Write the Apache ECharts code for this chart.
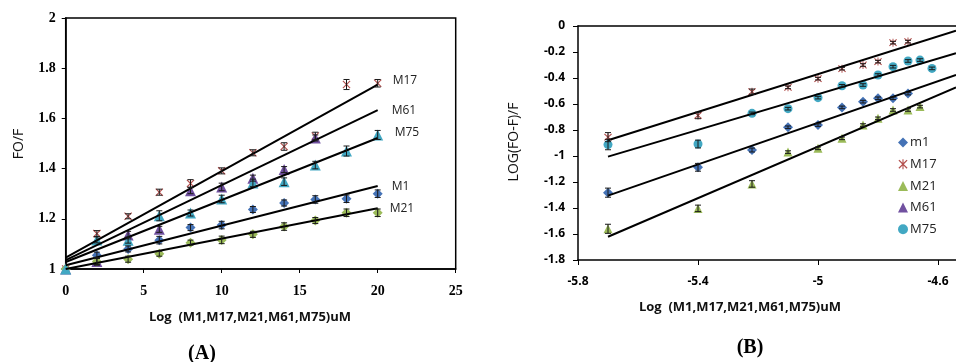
<!DOCTYPE html>
<html>
<head>
<meta charset="utf-8">
<script src="https://cdn.jsdelivr.net/npm/echarts@6.0.0/dist/echarts.min.js"></script>
<style>
html,body{margin:0;padding:0;background:#fff;}
#chart{width:956px;height:362px;}
</style>
</head>
<body>
<div id="chart"></div>
<script>
// ---------- Panel A data ----------
const xA = [0, 2, 4, 6, 8, 10, 12, 14, 16, 18, 20];
const aM1  = [1.00, 1.055, 1.08, 1.115, 1.165, 1.175, 1.237, 1.263, 1.277, 1.28, 1.30];
const aM17 = [1.00, 1.141, 1.21, 1.306, 1.341, 1.391, 1.463, 1.488, 1.53, 1.735, 1.74];
const aM21 = [1.00, 1.03, 1.039, 1.061, 1.105, 1.116, 1.138, 1.169, 1.193, 1.224, 1.224];
const aM61 = [1.00, 1.03, 1.135, 1.158, 1.312, 1.327, 1.362, 1.396, 1.522];
const aM75 = [1.00, 1.116, 1.115, 1.212, 1.223, 1.279, 1.343, 1.348, 1.414, 1.47, 1.534];
const errA_M1  = [0, 0.012, 0.012, 0.015, 0.012, 0.015, 0.012, 0.012, 0.015, 0.015, 0.015];
const errA_M17 = [0, 0.012, 0.01, 0.012, 0.015, 0.012, 0.012, 0.015, 0.015, 0.02, 0.015];
const errA_M21 = [0, 0.012, 0.012, 0.01, 0.01, 0.015, 0.012, 0.015, 0.012, 0.015, 0.015];
const errA_M61 = [0, 0.015, 0.015, 0.012, 0.012, 0.015, 0.012, 0.012, 0.012];
const errA_M75 = [0, 0.012, 0.012, 0.02, 0.012, 0.015, 0.015, 0.015, 0.015, 0.02, 0.018];
// trend lines A: [x, y] endpoints
const fitA_M17 = [[0, 1.045], [20, 1.735]];
const fitA_M61 = [[0, 1.035], [20, 1.633]];
const fitA_M75 = [[0, 1.028], [20, 1.522]];
const fitA_M1  = [[0, 1.015], [20, 1.331]];
const fitA_M21 = [[0, 1.0], [20, 1.242]];
const ticksAx = [0, 5, 10, 15, 20, 25];
const ticksAy = [1, 1.2, 1.4, 1.6, 1.8, 2];

// ---------- Panel B data ----------
const xB = [-5.70, -5.40, -5.22, -5.10, -5.00, -4.92, -4.85, -4.80, -4.75, -4.70, -4.66, -4.62];
const bM1  = [-1.282, -1.087, -0.954, -0.779, -0.762, -0.626, -0.582, -0.556, -0.556, -0.52];
const bM17 = [-0.855, -0.688, -0.505, -0.472, -0.405, -0.328, -0.30, -0.274, -0.128, -0.12];
const bM21 = [-1.56, -1.403, -1.215, -0.97, -0.941, -0.864, -0.762, -0.71, -0.646, -0.646, -0.62];
const bM61 = [];
const bM75 = [-0.912, -0.908, -0.672, -0.636, -0.551, -0.46, -0.454, -0.377, -0.313, -0.269, -0.262, -0.326];
const errB_M1  = [0.035, 0.03, 0.015, 0.01, 0.01, 0.01, 0.01, 0.01, 0.01, 0.01];
const errB_M17 = [0.035, 0.025, 0.02, 0.01, 0.01, 0.01, 0.01, 0.01, 0.01, 0.01];
const errB_M21 = [0.035, 0.025, 0.025, 0.01, 0.01, 0.01, 0.01, 0.01, 0.01, 0.01, 0.01];
const errB_M75 = [0.04, 0.03, 0.01, 0.01, 0.01, 0.01, 0.01, 0.01, 0.01, 0.01, 0.01, 0.01];
const fitB_1 = [[-5.70, -0.879], [-4.54, -0.036]];
const fitB_2 = [[-5.70, -1.005], [-4.54, -0.21]];
const fitB_3 = [[-5.70, -1.305], [-4.54, -0.377]];
const fitB_4 = [[-5.70, -1.621], [-4.54, -0.472]];
const ticksBx = [-5.8, -5.4, -5.0, -4.6];
const ticksBy = [0, -0.2, -0.4, -0.6, -0.8, -1, -1.2, -1.4, -1.6, -1.8];

// ---------- style ----------
const C = { blue: '#4472B6', red: '#B4504E', green: '#9BBB59', purple: '#7151A0', cyan: '#42A8C3' };
const X_PATH = 'path://M1,0L5,4L9,0L10,1L6,5L10,9L9,10L5,6L1,10L0,9L4,5L0,1Z';
const STAR_PATH = 'path://M1,0L5,4L9,0L10,1L6,5L10,9L9,10L5,6L1,10L0,9L4,5L0,1ZM4.4,-0.5L5.6,-0.5L5.6,10.5L4.4,10.5Z';
const SANS = '"Open Sans", "Liberation Sans", sans-serif';
const SERIF = '"Liberation Serif", "DejaVu Serif", serif';

function pts(xs, ys) { return ys.map((y, i) => [xs[i], y]); }

function errSeries(name, xs, ys, errs, gi, capHalf) {
  return {
    name: name, type: 'custom', xAxisIndex: gi, yAxisIndex: gi, z: 5, silent: true,
    data: ys.map((y, i) => [xs[i], y - errs[i], y + errs[i]]),
    encode: { x: 0, y: [1, 2] },
    renderItem: function (params, api) {
      const x = api.value(0);
      const lo = api.coord([x, api.value(1)]);
      const hi = api.coord([x, api.value(2)]);
      if (Math.abs(lo[1] - hi[1]) < 0.5) return null;
      const st = { stroke: '#1a1a1a', lineWidth: 1 };
      return {
        type: 'group', children: [
          { type: 'line', shape: { x1: lo[0], y1: lo[1], x2: hi[0], y2: hi[1] }, style: st },
          { type: 'line', shape: { x1: lo[0] - capHalf, y1: lo[1], x2: lo[0] + capHalf, y2: lo[1] }, style: st },
          { type: 'line', shape: { x1: hi[0] - capHalf, y1: hi[1], x2: hi[0] + capHalf, y2: hi[1] }, style: st }
        ]
      };
    }
  };
}

function scat(name, xs, ys, gi, symbol, size, color, z) {
  return {
    name: name, type: 'scatter', xAxisIndex: gi, yAxisIndex: gi, z: z || 3,
    symbol: symbol, symbolSize: size, data: pts(xs, ys),
    itemStyle: { color: color, opacity: 1 }, silent: true
  };
}

function fitLine(name, data, gi, label, offset) {
  const s = {
    name: name, type: 'line', xAxisIndex: gi, yAxisIndex: gi, z: 4, silent: true,
    data: data, showSymbol: false, symbol: 'none',
    lineStyle: { color: '#000', width: 2 }, animation: false
  };
  if (label) {
    s.endLabel = {
      show: true, formatter: label, offset: offset, distance: 5,
      color: '#222', fontSize: 12, fontFamily: SANS
    };
  }
  return s;
}

const chart = echarts.init(document.getElementById('chart'), null, { renderer: 'canvas' });

const option = {
  animation: false,
  backgroundColor: '#fff',
  grid: [
    { left: 65.7, top: 18, width: 390, height: 251, show: true, borderColor: '#000', borderWidth: 1.5, containLabel: false },
    { left: 578, top: 26, right: 0, height: 234, containLabel: false }
  ],
  xAxis: [
    {
      gridIndex: 0, type: 'value', min: ticksAx[0], max: ticksAx[ticksAx.length - 1], interval: 5,
      axisLine: { show: true, onZero: false, lineStyle: { color: '#000', width: 1.5 } },
      axisTick: { show: true, length: 4, lineStyle: { color: '#000' } },
      splitLine: { show: false },
      axisLabel: { margin: 15, color: '#000', fontFamily: SERIF, fontWeight: 'bold', fontSize: 14 }
    },
    {
      gridIndex: 1, type: 'value', min: ticksBx[0], max: -4.54, interval: 0.4,
      axisLine: { show: true, onZero: false, lineStyle: { color: '#000', width: 1.5 } },
      axisTick: { show: true, length: 5, lineStyle: { color: '#000' } },
      splitLine: { show: false },
      axisLabel: {
        margin: 16, color: '#000', fontFamily: SANS, fontWeight: 'bold', fontSize: 12, showMaxLabel: false,
        formatter: function (v) { return (Math.round(v * 10) / 10).toString(); }
      }
    },
    {
      gridIndex: 1, type: 'value', position: 'top', min: ticksBx[0], max: -4.54,
      axisLine: { show: true, onZero: false, lineStyle: { color: '#000', width: 1.5 } },
      axisTick: { show: false }, axisLabel: { show: false }, splitLine: { show: false }
    }
  ],
  yAxis: [
    {
      gridIndex: 0, type: 'value', min: ticksAy[0], max: ticksAy[ticksAy.length - 1], interval: 0.2,
      axisLine: { show: true, onZero: false, lineStyle: { color: '#000', width: 1.5 } },
      axisTick: { show: true, length: 4, lineStyle: { color: '#000' } },
      splitLine: { show: false },
      axisLabel: { margin: 10, color: '#000', fontFamily: SERIF, fontWeight: 'bold', fontSize: 14 }
    },
    {
      gridIndex: 1, type: 'value', min: ticksBy[ticksBy.length - 1], max: ticksBy[0], interval: 0.2,
      axisLine: { show: true, onZero: false, lineStyle: { color: '#000', width: 1.5 } },
      axisTick: { show: true, length: 5, lineStyle: { color: '#000' } },
      splitLine: { show: false },
      axisLabel: {
        margin: 13, color: '#000', fontFamily: SANS, fontWeight: 'bold', fontSize: 12,
        formatter: function (v) { return (Math.round(v * 10) / 10).toString(); }
      }
    }
  ],
  legend: {
    orient: 'vertical', left: 893, top: 131, itemWidth: 10, itemHeight: 10, itemGap: 8.7,
    data: ['m1', 'M17', 'M21', 'M61', 'M75'],
    textStyle: { fontFamily: SANS, fontSize: 13, color: '#222', padding: [0, 0, 0, -3] },
    selectedMode: false
  },
  graphic: [
    { type: 'text', x: 250, y: 317, style: { text: 'Log  (M1,M17,M21,M61,M75)uM', font: 'bold 13px "Open Sans"', fill: '#111', align: 'center', verticalAlign: 'middle' } },
    { type: 'text', x: 740, y: 307, style: { text: 'Log  (M1,M17,M21,M61,M75)uM', font: 'bold 13px "Open Sans"', fill: '#111', align: 'center', verticalAlign: 'middle' } },
    { type: 'text', x: 202, y: 354, style: { text: '(A)', font: 'bold 20px "Liberation Serif"', fill: '#000', align: 'center', verticalAlign: 'middle' } },
    { type: 'text', x: 750, y: 348, style: { text: '(B)', font: 'bold 20px "Liberation Serif"', fill: '#000', align: 'center', verticalAlign: 'middle' } },
    { type: 'text', x: 19, y: 144, rotation: Math.PI / 2, style: { text: 'FO/F', font: '14px "Open Sans"', fill: '#111', align: 'center', verticalAlign: 'middle' } },
    { type: 'text', x: 514, y: 142, rotation: Math.PI / 2, style: { text: 'LOG(FO-F)/F', font: '14px "Open Sans"', fill: '#111', align: 'center', verticalAlign: 'middle' } }
  ],
  series: [
    // Panel A trend lines
    fitLine('A fit M17', fitA_M17, 0, 'M17', [10, -4]),
    fitLine('A fit M61', fitA_M61, 0, 'M61', [9, 0]),
    fitLine('A fit M75', fitA_M75, 0, 'M75', [12, -5]),
    fitLine('A fit M1', fitA_M1, 0, 'M1', [9, 1]),
    fitLine('A fit M21', fitA_M21, 0, 'M21', [7, 0]),
    // Panel A points
    scat('A M17', xA, aM17, 0, X_PATH, 8, C.red, 3),
    scat('A M61', xA, aM61, 0, 'triangle', 11, C.purple, 3),
    scat('A M1', xA, aM1, 0, 'diamond', 10, C.blue, 3),
    scat('A M21', xA, aM21, 0, 'diamond', 10, C.green, 3),
    scat('A M75', xA, aM75, 0, 'triangle', 11, C.cyan, 3),
    errSeries('A err M17', xA, aM17, errA_M17, 0, 3),
    errSeries('A err M61', xA, aM61, errA_M61, 0, 3),
    errSeries('A err M1', xA, aM1, errA_M1, 0, 3),
    errSeries('A err M21', xA, aM21, errA_M21, 0, 3),
    errSeries('A err M75', xA, aM75, errA_M75, 0, 3),
    // Panel B trend lines
    fitLine('B fit 1', fitB_1, 1),
    fitLine('B fit 2', fitB_2, 1),
    fitLine('B fit 3', fitB_3, 1),
    fitLine('B fit 4', fitB_4, 1),
    // Panel B points
    scat('m1', xB, bM1, 1, 'diamond', 10, C.blue, 3),
    scat('M17', xB, bM17, 1, STAR_PATH, 8, C.red, 3),
    scat('M21', xB, bM21, 1, 'triangle', 9, C.green, 3),
    scat('M61', xB, bM61, 1, 'triangle', 9, C.purple, 3),
    scat('M75', xB, bM75, 1, 'circle', 9, C.cyan, 3),
    errSeries('B err m1', xB, bM1, errB_M1, 1, 3),
    errSeries('B err M17', xB, bM17, errB_M17, 1, 3),
    errSeries('B err M21', xB, bM21, errB_M21, 1, 3),
    errSeries('B err M75', xB, bM75, errB_M75, 1, 3)
  ]
};
chart.setOption(option);
</script>
</body>
</html>
